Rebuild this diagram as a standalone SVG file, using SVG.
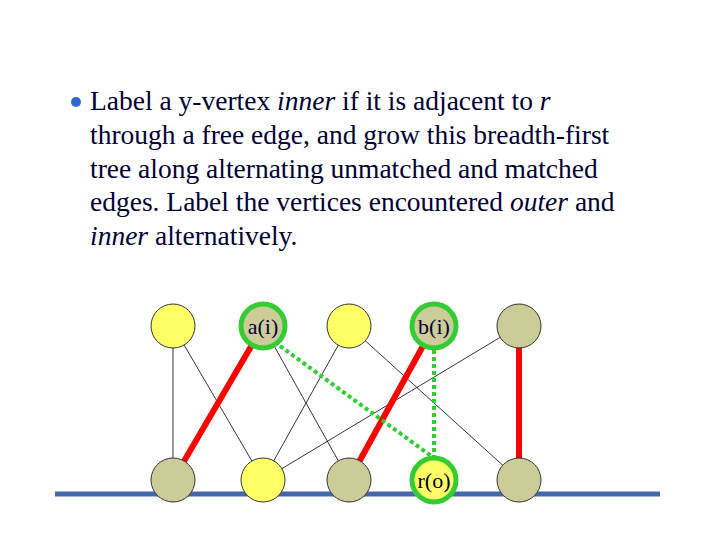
<svg xmlns="http://www.w3.org/2000/svg" width="720" height="540" viewBox="0 0 720 540">
<style>
.t{font-family:"Liberation Serif",serif;font-size:27.5px;fill:#000033}
.n{stroke:#333;stroke-width:1}
.y{fill:#ffff66}.g{fill:#cccc99}
.hl{stroke:#33cc33;stroke-width:5}
.th{stroke:#000;stroke-width:0.8}
.red{stroke:#ff0000;stroke-width:6}
.dot{stroke:#33cc33;stroke-width:4;stroke-dasharray:4 3}
.l{font-family:"Liberation Serif",serif;font-size:22px;fill:#000033;text-anchor:middle}
</style>
<rect width="720" height="540" fill="#fff"/>
<g id="text">
<circle cx="76" cy="102" r="5" fill="#3366cc"/>
<text class="t" x="90" y="110">Label a y-vertex <tspan font-style="italic">inner</tspan> if it is adjacent to <tspan font-style="italic">r</tspan></text>
<text class="t" x="90" y="144">through a free edge, and grow this breadth-first</text>
<text class="t" x="90" y="178">tree along alternating unmatched and matched</text>
<text class="t" x="90" y="211">edges. Label the vertices encountered <tspan font-style="italic">outer</tspan> and</text>
<text class="t" x="90" y="245"><tspan font-style="italic">inner</tspan> alternatively.</text>
</g>
<line x1="55" y1="494" x2="660" y2="494" stroke="#4466aa" stroke-width="5"/>
<g id="connectors">
<line class="th" x1="173" y1="326" x2="173" y2="480"/>
<line class="th" x1="173" y1="326" x2="263" y2="480"/>
<line class="th" x1="263" y1="326" x2="349" y2="480"/>
<line class="th" x1="349" y1="326" x2="263" y2="480"/>
<line class="th" x1="349" y1="326" x2="519" y2="480"/>
<line class="th" x1="519" y1="326" x2="263" y2="480"/>
<line class="red" x1="263" y1="326" x2="173" y2="480"/>
<line class="red" x1="434" y1="326" x2="349" y2="480"/>
<line class="red" x1="519" y1="326" x2="519" y2="480"/>
<line class="dot" x1="280" y1="346" x2="434" y2="458"/>
<line class="dot" x1="434" y1="350" x2="434" y2="458"/>
</g>
<g id="t1"><circle class="n y" cx="173" cy="326" r="22"/></g>
<g id="a"><circle class="g hl" cx="263" cy="326" r="22"/><text class="l" x="263" y="334">a(i)</text></g>
<g id="t3"><circle class="n y" cx="349" cy="326" r="22"/></g>
<g id="b"><circle class="g hl" cx="434" cy="326" r="22"/><text class="l" x="434" y="334">b(i)</text></g>
<g id="t5"><circle class="n g" cx="519" cy="326" r="22"/></g>
<g id="b1"><circle class="n g" cx="173" cy="480" r="22"/></g>
<g id="b2"><circle class="n y" cx="263" cy="480" r="22"/></g>
<g id="b3"><circle class="n g" cx="349" cy="480" r="22"/></g>
<g id="r"><circle class="y hl" cx="434" cy="480" r="22"/><text class="l" x="434" y="488">r(o)</text></g>
<g id="b5"><circle class="n g" cx="519" cy="480" r="22"/></g>
</svg>
